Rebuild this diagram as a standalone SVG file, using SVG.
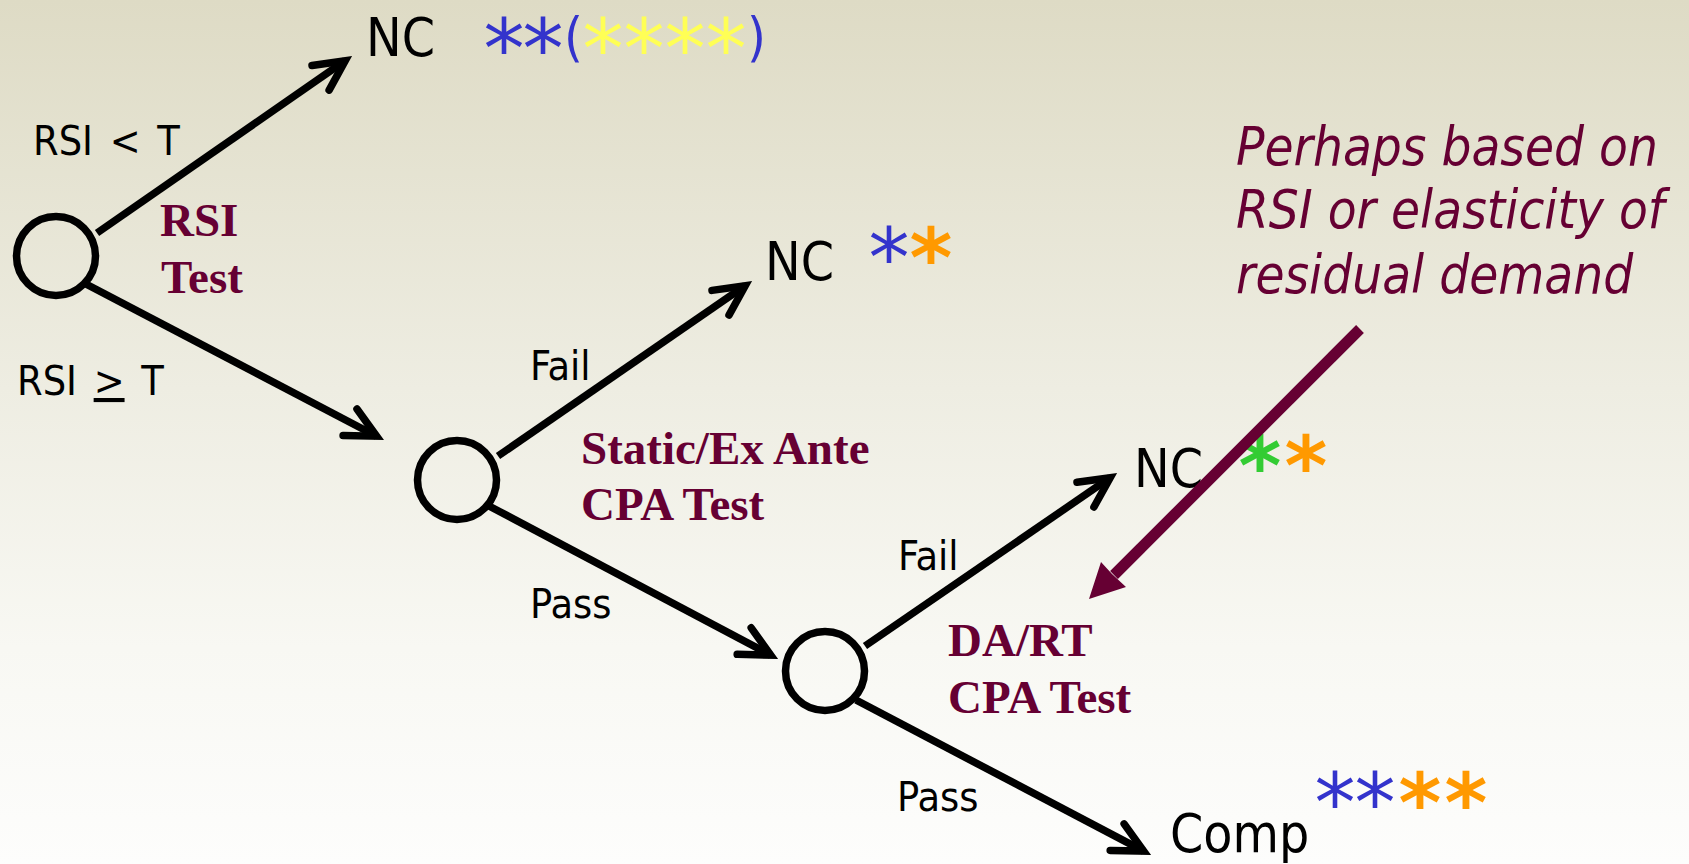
<svg xmlns="http://www.w3.org/2000/svg" width="1689" height="864" viewBox="0 0 1689 864">
  <defs>
    <linearGradient id="bg" x1="0" y1="0" x2="0" y2="1">
      <stop offset="0" stop-color="#dedbc5"/>
      <stop offset="0.45" stop-color="#eeede2"/>
      <stop offset="0.75" stop-color="#f8f8f3"/>
      <stop offset="1" stop-color="#fdfdfc"/>
    </linearGradient>
    <marker id="vhead" markerUnits="userSpaceOnUse" markerWidth="80" markerHeight="80" refX="0" refY="0" orient="auto" overflow="visible">
      <path d="M -30 -15 L 0 0 L -30 15" fill="none" stroke="#000" stroke-width="7.5" stroke-linejoin="miter" stroke-linecap="round"/>
    </marker>
  </defs>
  <style>
    .lbl { font-family: "DejaVu Sans Condensed", "DejaVu Sans", sans-serif; font-stretch: condensed; fill: #000; }
    .term { font-size: 53px; }
    .edge { font-size: 41px; }
    .wide { word-spacing: 5px; }
    .test { font-family: "Liberation Serif", "Times New Roman", serif; font-weight: bold; font-size: 47px; fill: #660033; }
    .note { font-family: "DejaVu Sans Condensed", "DejaVu Sans", sans-serif; font-stretch: condensed; font-style: italic; font-size: 52.5px; fill: #660033; }
    .ast { font-family: "DejaVu Sans", sans-serif; font-size: 82px; text-anchor: middle; }
    .astb { font-weight: bold; }
    .blue { fill: #3333cc; }
    .yellow { fill: #ffff55; }
    .orange { fill: #ff9900; }
    .green { fill: #33cc33; }
    .paren { font-family: "DejaVu Sans Condensed", "DejaVu Sans", sans-serif; font-size: 54px; fill: #3333cc; }
    .node { fill: none; stroke: #000; stroke-width: 7.5; }
    .conn { stroke: #000; stroke-width: 7.5; fill: none; marker-end: url(#vhead); }
  </style>
  <rect x="0" y="0" width="1689" height="864" fill="url(#bg)"/>

  <g id="connectors">
    <line class="conn" x1="97" y1="233" x2="345.2" y2="60.7"/>
    <line class="conn" x1="84" y1="283" x2="376.6" y2="436.2"/>
    <line class="conn" x1="498" y1="456" x2="745.2" y2="285.7"/>
    <line class="conn" x1="489" y1="506" x2="770.7" y2="655.1"/>
    <line class="conn" x1="865" y1="646" x2="1110.2" y2="477.7"/>
    <line class="conn" x1="856" y1="700" x2="1143.7" y2="851.1"/>
    <text class="lbl edge wide" x="33" y="155">RSI &lt; T</text>
    <text class="lbl edge wide" x="17" y="395">RSI <tspan text-decoration="underline">&gt;</tspan> T</text>
    <text class="lbl edge" x="530" y="380">Fail</text>
    <text class="lbl edge" x="530" y="618">Pass</text>
    <text class="lbl edge" x="898" y="570">Fail</text>
    <text class="lbl edge" x="897" y="811">Pass</text>
  </g>

  <g id="node-rsi">
    <circle class="node" cx="56" cy="256" r="39.5"/>
    <text class="test" x="160" y="236">RSI</text>
    <text class="test" x="161" y="293">Test</text>
  </g>

  <g id="node-static">
    <circle class="node" cx="457" cy="480" r="39.5"/>
    <text class="test" x="581" y="464">Static/Ex Ante</text>
    <text class="test" x="581" y="520">CPA Test</text>
  </g>

  <g id="node-dart">
    <circle class="node" cx="825" cy="671" r="39.5"/>
    <text class="test" x="948" y="656">DA/RT</text>
    <text class="test" x="948" y="713">CPA Test</text>
  </g>

  <g id="node-nc1">
    <text class="lbl term" x="366" y="56">NC</text>
    <text class="paren" x="564" y="56">(</text>
    <text class="paren" x="747" y="56">)</text>
    <text class="ast blue" x="504" y="78">*</text>
    <text class="ast blue" x="543" y="78">*</text>
    <text class="ast yellow" x="603" y="78">*</text>
    <text class="ast yellow" x="644" y="78">*</text>
    <text class="ast yellow" x="685" y="78">*</text>
    <text class="ast yellow" x="726" y="78">*</text>
  </g>

  <g id="node-nc2">
    <text class="lbl term" x="765" y="280">NC</text>
    <text class="ast blue" x="889" y="286.5">*</text>
    <text class="ast astb orange" x="931" y="286.5">*</text>
  </g>

  <g id="node-nc3">
    <text class="lbl term" x="1134" y="487">NC</text>
    <text class="ast astb green" x="1260" y="494.5">*</text>
    <text class="ast astb orange" x="1306" y="494.5">*</text>
  </g>

  <g id="node-comp">
    <text class="lbl term" x="1170" y="852">Comp</text>
    <text class="ast blue" x="1335" y="831.5">*</text>
    <text class="ast blue" x="1375" y="831.5">*</text>
    <text class="ast astb orange" x="1420" y="831.5">*</text>
    <text class="ast astb orange" x="1466" y="831.5">*</text>
  </g>

  <g id="note">
    <text class="note" x="1236" y="165">Perhaps based on</text>
    <text class="note" x="1236" y="228">RSI or elasticity of</text>
    <text class="note" x="1236" y="293">residual demand</text>
    <line x1="1360" y1="329" x2="1114" y2="575" stroke="#660033" stroke-width="11"/>
    <polygon points="1089,599 1101,562 1112,574 1126,587" fill="#660033"/>
  </g>
</svg>
